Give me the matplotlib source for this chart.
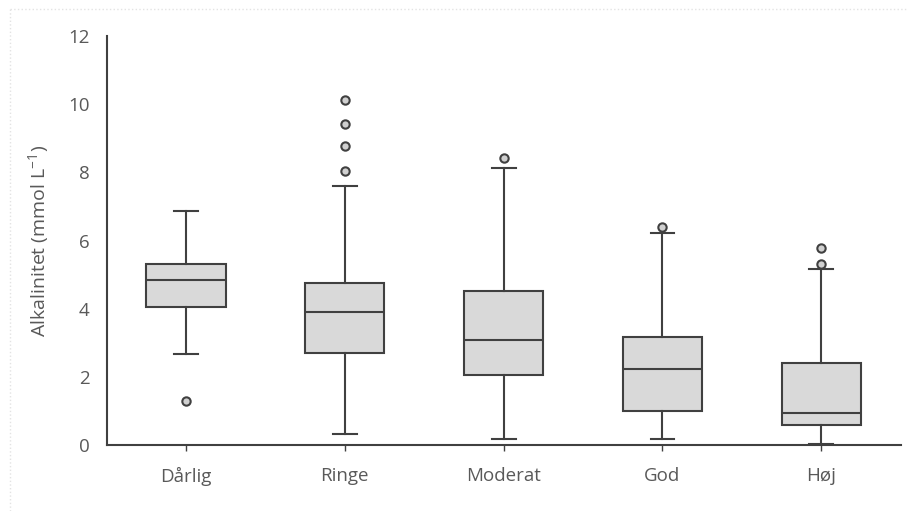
import numpy as np
import matplotlib
matplotlib.use('Agg')
from matplotlib import pyplot as plt
from matplotlib.lines import Line2D

# --- data (mmol/L)
categories = ['Dårlig', 'Ringe', 'Moderat', 'God', 'Høj']
whisker_low = [2.67, 0.32, 0.18, 0.18, 0.03]
q1 = [4.05, 2.70, 2.05, 1.00, 0.59]
median = [4.84, 3.90, 3.08, 2.23, 0.94]
q3 = [5.31, 4.75, 4.52, 3.17, 2.40]
whisker_high = [6.87, 7.60, 8.13, 6.22, 5.16]
outliers = [[1.29],
            [8.04, 8.77, 9.42, 10.12],
            [8.42],
            [6.40],
            [5.31, 5.78]]

stats = []
for i, name in enumerate(categories):
    stats.append({'label': name, 'whislo': whisker_low[i], 'q1': q1[i],
                  'med': median[i], 'q3': q3[i], 'whishi': whisker_high[i],
                  'fliers': outliers[i]})

edge = '#404040'
text_col = '#595959'
plt.rcParams['font.family'] = ['Open Sans', 'DejaVu Sans']

fig = plt.figure(figsize=(9.07, 5.11), dpi=100)
ax = fig.add_axes([106.5 / 907, 1 - 445 / 511, (900.7 - 106.5) / 907, (445 - 36) / 511])

ax.bxp(stats, positions=np.arange(1, 6), widths=0.5, capwidths=0.15,
       patch_artist=True,
       boxprops=dict(facecolor='#d9d9d9', edgecolor=edge, linewidth=1.5),
       medianprops=dict(color=edge, linewidth=1.5),
       whiskerprops=dict(color=edge, linewidth=1.5),
       capprops=dict(color=edge, linewidth=1.5),
       flierprops=dict(marker='o', markersize=6, markerfacecolor='#d0d0d0',
                       markeredgecolor=edge, markeredgewidth=1.5))

ax.set_xlim(0.5, 5.5)
ax.set_ylim(0, 12)
ax.set_yticks(np.arange(0, 13, 2))
ax.set_xticks(np.arange(1, 6))
ax.set_xticklabels(categories)
ax.tick_params(axis='y', length=0, pad=12, labelsize=13.5, labelcolor=text_col)
ax.tick_params(axis='x', length=4, width=1, color=edge, pad=12, labelsize=13.5,
               labelcolor=text_col)
for side in ['top', 'right']:
    ax.spines[side].set_visible(False)
for side in ['left', 'bottom']:
    ax.spines[side].set_color(edge)
    ax.spines[side].set_linewidth(1.5)

ax.set_ylabel('Alkalinitet (mmol L$^{\\mathregular{-1}}$)', fontsize=14,
              color=text_col)
ax.yaxis.set_label_coords(-0.068, 0.5)

# light frame around the chart area (top and left only)
fig.add_artist(Line2D([10 / 907, 1], [1 - 9 / 511, 1 - 9 / 511],
                      color='#e3e3e3', linewidth=1, linestyle=':'))
fig.add_artist(Line2D([10 / 907, 10 / 907], [0, 1 - 9 / 511],
                      color='#e3e3e3', linewidth=1, linestyle=':'))

fig.savefig('out.png', dpi=100)
